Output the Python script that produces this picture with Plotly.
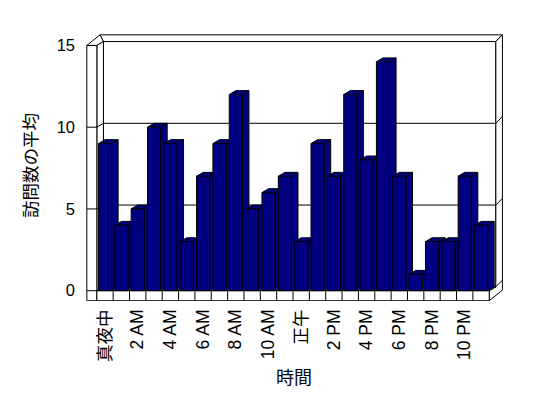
import plotly.graph_objects as go

# ---- data ----
hours = list(range(24))
visits = [9, 4, 5, 10, 9, 3, 7, 9, 12, 5, 6, 7, 3, 9, 7, 12, 8, 14, 7, 1, 3, 3, 7, 4]
tick_positions = [0, 2, 4, 6, 8, 10, 12, 14, 16, 18, 20, 22]
tick_labels = ["真夜中", "2 AM", "4 AM", "6 AM", "8 AM", "10 AM", "正午",
               "2 PM", "4 PM", "6 PM", "8 PM", "10 PM"]
y_ticks = [0, 5, 10, 15]
x_title = "時間"
y_title = "訪問数の平均"

# ---- geometry (pixel model of the oblique 3D frame) ----
W, H = 548, 398
ML, MR, MT, MB = 80, 40, 30, 97
S = 16.35            # px per category and per value unit
X0, Y0 = 105.0, 290.7  # pixel of category 0 centre / value 0 on the front plane
BAR_W = 0.8
DEPTH = (6.6, -3.9)   # front -> inner back wall offset in px
OUTER = (13.2, -10.6) # front -> outer back wall offset in px
WALL_T = 10.0         # wall / floor thickness in px

NAVY = "#000080"
LINE = dict(color="black", width=1)

def px2x(px):
    return (px - X0) / S

def py2y(py):
    return (Y0 - py) / S

def x2px(x):
    return X0 + S * x

def y2py(y):
    return Y0 - S * y

def path(points):
    pts = [f"{px2x(a):.4f},{py2y(b):.4f}" for a, b in points]
    return "M" + " L".join(pts) + " Z"

def open_path(points):
    pts = [f"{px2x(a):.4f},{py2y(b):.4f}" for a, b in points]
    return "M" + " L".join(pts)

shapes = []

def add(p, fill="white"):
    shapes.append(dict(type="path", path=p, xref="x", yref="y", layer="below",
                       fillcolor=fill, line=LINE))

n = len(hours)
xl = x2px(-0.5)
xr = x2px(n - 0.5)
xo = xl - WALL_T
ytop = y2py(max(y_ticks))
ybot = Y0 + WALL_T
dx, dy = DEPTH
ox, oy = OUTER

# back wall top face
add(path([(xo + ox, ytop + oy), (xr + ox, ytop + oy), (xr + dx, ytop + dy), (xl + dx, ytop + dy)]))
# back wall inner face
add(path([(xl + dx, ytop + dy), (xr + dx, ytop + dy), (xr + dx, Y0 + dy), (xl + dx, Y0 + dy)]))
# right side of back wall + floor
add(path([(xr, Y0), (xr + dx, Y0 + dy), (xr + dx, ytop + dy), (xr + ox, ytop + oy),
          (xr + ox, ybot + oy), (xr, ybot)]))
# left wall top face
add(path([(xo, ytop), (xl, ytop), (xl + dx, ytop + dy), (xo + ox, ytop + oy)]))
# left wall inner face
add(path([(xl, ytop), (xl + dx, ytop + dy), (xl + dx, Y0 + dy), (xl, Y0)]))
# left wall front face
add(path([(xo, ytop), (xl, ytop), (xl, ybot), (xo, ybot)]))
# floor top
add(path([(xl, Y0), (xr, Y0), (xr + dx, Y0 + dy), (xl + dx, Y0 + dy)]))
# floor front face
add(path([(xl, Y0), (xr, Y0), (xr, ybot), (xl, ybot)]))

# gridlines following the walls
for v in y_ticks[:-1]:
    yf = y2py(v)
    shapes.append(dict(type="path", xref="x", yref="y", layer="below", line=LINE,
                       path=open_path([(xo, yf), (xl, yf), (xl + dx, yf + dy),
                                       (xr + dx, yf + dy), (xr + ox, yf + oy)])))

# floor ticks between categories
for k in range(1, n):
    shapes.append(dict(type="line", xref="x", yref="y", layer="below", line=LINE,
                       x0=k - 0.5, x1=k - 0.5, y0=0, y1=py2y(ybot)))

# bar side and top faces (computed from the data values)
for h, v in zip(hours, visits):
    L = x2px(h - BAR_W / 2)
    R = x2px(h + BAR_W / 2)
    T = y2py(v)
    add(path([(R, Y0), (R, T), (R + dx, T + dy), (R + dx, Y0 + dy)]), fill=NAVY)
    add(path([(L, T), (R, T), (R + dx, T + dy), (L + dx, T + dy)]), fill=NAVY)

fig = go.Figure()
fig.add_trace(go.Bar(x=hours, y=visits, width=BAR_W,
                     marker=dict(color=NAVY, line=LINE), hoverinfo="skip"))

font_main = "Liberation Sans, Arial, Noto Sans CJK JP, sans-serif"
fig.update_layout(
    width=W, height=H,
    margin=dict(l=ML, r=MR, t=MT, b=MB),
    paper_bgcolor="white", plot_bgcolor="white",
    showlegend=False,
    shapes=shapes,
    font=dict(family=font_main, size=16, color="black"),
    xaxis=dict(range=[px2x(ML), px2x(W - MR)], tickvals=tick_positions, ticktext=tick_labels,
               tickangle=-90, showgrid=False, zeroline=False, showline=False, ticks="",
               ticklabelstandoff=4, tickfont=dict(size=17.5),
               title=dict(text=x_title, standoff=10, font=dict(size=18))),
    yaxis=dict(range=[py2y(H - MB), py2y(MT)], tickvals=y_ticks, showgrid=False,
               zeroline=False, showline=False, ticks="", ticklabelstandoff=4,
               tickfont=dict(size=16.5),
               title=dict(text=y_title, standoff=14, font=dict(size=17.5))),
)

fig.write_html("out.html")
